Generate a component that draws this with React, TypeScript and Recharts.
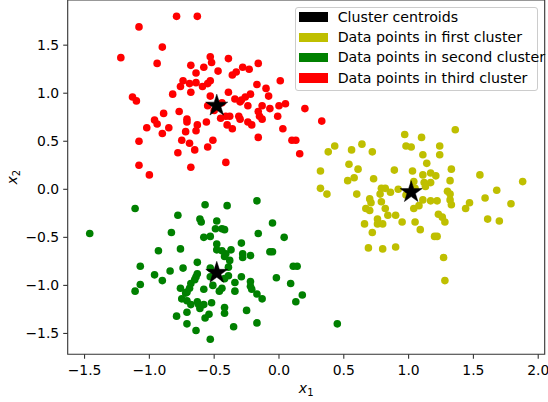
import React from 'react';
import { ScatterChart, Scatter, XAxis, YAxis, Legend, ReferenceArea, Symbols } from 'recharts';

const FONT = "'DejaVu Sans', sans-serif";

const xTicks = [-1.5, -1.0, -0.5, 0.0, 0.5, 1.0, 1.5, 2.0];
const yTicks = [-1.5, -1.0, -0.5, 0.0, 0.5, 1.0, 1.5];
const xDomain: [number, number] = [-1.63, 2.05];
const yDomain: [number, number] = [-1.717, 1.97];

const legendNames = [
  'Cluster centroids',
  'Data points in first cluster',
  'Data points in second cluster',
  'Data points in third cluster',
];
const legendColors = ['#000000', '#bfbf00', '#008000', '#ff0000'];

const centroids: [number, number][] = [[1.02, -0.03], [-0.48, -0.87], [-0.48, 0.87]];

const firstCluster: [number, number][] = [
  [1.36, 0.62], [0.97, 0.57], [1.10, 0.54], [0.43, 0.45], [0.38, 0.39], [0.56, 0.41], [0.64, 0.47], [0.72, 0.39],
  [0.98, 0.45], [1.02, 0.44], [1.24, 0.45], [1.24, 0.36], [1.11, 0.36], [1.14, 0.27], [0.54, 0.26], [0.61, 0.21],
  [0.32, 0.19], [0.89, 0.20], [1.03, 0.19], [1.11, 0.15], [1.17, 0.17], [1.21, 0.14], [1.33, 0.21], [1.55, 0.15],
  [1.88, 0.08], [0.53, 0.09], [0.58, 0.12], [0.73, 0.11], [1.12, 0.07], [1.17, 0.07], [1.32, 0.09], [1.04, 0.08],
  [0.32, 0.01], [0.37, -0.05], [0.60, -0.05], [0.79, 0.01], [0.82, 0.01], [0.78, -0.05], [0.86, -0.03], [0.92, 0.00],
  [1.30, -0.02], [1.32, -0.05], [1.32, -0.11], [1.33, -0.16], [1.47, -0.14], [1.59, -0.09], [1.68, -0.01], [0.70, -0.10],
  [0.71, -0.14], [0.67, -0.20], [0.70, -0.22], [0.79, -0.13], [0.82, -0.20], [0.84, -0.27], [0.90, -0.27], [0.76, -0.31],
  [0.76, -0.36], [0.80, -0.36], [0.66, -0.36], [0.72, -0.45], [0.95, -0.34], [1.05, -0.34], [1.09, -0.42], [1.04, -0.20],
  [1.08, -0.17], [1.11, -0.11], [1.17, -0.12], [1.22, -0.12], [1.23, -0.26], [1.26, -0.29], [1.28, -0.34], [1.20, -0.49],
  [1.22, -0.49], [0.69, -0.61], [0.80, -0.62], [0.90, -0.60], [1.27, -0.71], [1.28, -0.95], [1.44, -0.20], [1.79, -0.15],
  [1.61, -0.31], [1.70, -0.33], [1.13, 0.03], [0.98, -0.06], [1.05, 0.01],
];

const secondCluster: [number, number][] = [
  [-1.11, -0.20], [-1.46, -0.46], [-0.78, -0.27], [-0.57, -0.16], [-0.40, -0.17], [-0.17, -0.12], [-0.61, -0.31], [-0.60, -0.34],
  [-0.48, -0.33], [-0.83, -0.45], [-0.58, -0.50], [-0.53, -0.49], [-0.49, -0.41], [-0.44, -0.41], [-0.42, -0.42], [-0.16, -0.46],
  [-0.05, -0.35], [0.04, -0.50], [-0.76, -0.62], [-0.93, -0.64], [-0.48, -0.57], [-0.48, -0.63], [-0.44, -0.64], [-0.41, -0.67],
  [-0.37, -0.63], [-0.42, -0.70], [-0.38, -0.74], [-0.29, -0.56], [-0.28, -0.67], [-0.28, -0.71], [-0.22, -0.69], [-0.07, -0.65],
  [-0.05, -0.65], [-1.07, -0.80], [-0.74, -0.82], [-0.63, -0.76], [-0.84, -0.85], [-0.96, -0.89], [-0.90, -0.95], [-1.07, -0.99],
  [-1.11, -1.06], [-0.63, -0.88], [-0.64, -0.91], [-0.65, -0.94], [-0.68, -0.98], [-0.69, -1.03], [-0.71, -1.07], [-0.72, -1.08],
  [-0.76, -1.03], [-0.58, -1.04], [-0.53, -0.82], [-0.39, -0.81], [-0.39, -0.90], [-0.42, -0.93], [-0.53, -0.91], [-0.51, -1.00],
  [-0.46, -1.06], [-0.44, -1.03], [-0.34, -0.97], [-0.34, -1.06], [-0.29, -0.91], [-0.22, -0.96], [-0.22, -1.01], [-0.21, -1.04],
  [-0.02, -0.92], [0.09, -0.98], [0.11, -0.80], [0.14, -0.80], [-0.17, -1.09], [-0.13, -1.14], [0.18, -1.10], [0.13, -1.17],
  [-0.75, -1.14], [-0.71, -1.16], [-0.68, -1.20], [-0.63, -1.17], [-0.62, -1.20], [-0.61, -1.24], [-0.58, -1.20], [-0.52, -1.18],
  [-0.42, -1.23], [-0.42, -1.29], [-0.25, -1.26], [-0.71, -1.28], [-0.79, -1.32], [-0.54, -1.30], [-0.57, -1.34], [-0.71, -1.40],
  [-0.35, -1.43], [-0.17, -1.39], [-0.64, -1.47], [-0.53, -1.56], [0.45, -1.40],
];

const thirdCluster: [number, number][] = [
  [-0.79, 1.80], [-0.63, 1.80], [-1.08, 1.69], [-0.90, 1.48], [-1.22, 1.37], [-0.94, 1.31], [-0.53, 1.38], [-0.52, 1.32],
  [-0.39, 1.36], [-0.68, 1.29], [-0.58, 1.27], [-0.47, 1.23], [-0.64, 1.21], [-0.16, 1.31], [-0.28, 1.27], [-0.23, 1.25],
  [-0.33, 1.22], [-0.36, 1.19], [-0.74, 1.13], [-0.76, 1.07], [-0.69, 1.10], [-0.64, 1.11], [-0.53, 1.13], [-0.55, 1.10],
  [-0.59, 1.07], [-0.82, 0.99], [-0.68, 1.01], [-0.53, 0.97], [-0.39, 1.01], [-0.17, 1.09], [-0.10, 1.05], [0.01, 1.13],
  [-0.08, 0.97], [-0.22, 0.99], [-0.26, 0.96], [-0.29, 0.93], [-0.34, 0.94], [-0.30, 0.91], [-0.24, 0.87], [-0.13, 0.87],
  [0.00, 0.87], [0.05, 0.89], [0.20, 0.84], [-1.13, 0.96], [-1.10, 0.92], [-0.55, 0.87], [-0.77, 0.81], [-0.89, 0.79],
  [-0.96, 0.72], [-0.94, 0.68], [-1.02, 0.64], [-0.85, 0.64], [-0.71, 0.73], [-0.71, 0.70], [-0.63, 0.67], [-0.56, 0.70],
  [-0.72, 0.60], [-0.64, 0.61], [-0.90, 0.58], [-1.08, 0.50], [-0.75, 0.51], [-0.69, 0.48], [-0.51, 0.51], [-0.65, 0.41],
  [-0.55, 0.44], [-0.78, 0.38], [-0.41, 0.28], [-1.08, 0.25], [-1.00, 0.15], [-0.68, 0.23], [-0.41, 0.76], [-0.45, 0.74],
  [-0.38, 0.76], [-0.31, 0.76], [-0.30, 0.73], [-0.16, 0.81], [-0.15, 0.76], [-0.13, 0.73], [-0.01, 0.76], [0.03, 0.63],
  [-0.24, 0.70], [-0.21, 0.67], [-0.40, 0.67], [-0.36, 0.63], [-0.16, 0.54], [0.10, 0.51], [0.13, 0.51], [0.16, 0.37],
  [0.33, 0.71], [-0.07, 0.84], [-0.44, 0.90], [-0.50, 0.82],
];

const toPoints = (arr: [number, number][]) => arr.map(([x, y]) => ({ x, y }));

const fmt = (v: number) => v.toFixed(1).replace('-', '\u2212');

const makeDot = (color: string) => (props: any) => (
  <circle cx={props.cx} cy={props.cy} r={3.8} fill={color} />
);

const StarShape = (props: any) => (
  <Symbols type="star" size={150} cx={props.cx} cy={props.cy} fill="#000" stroke="#000" strokeWidth={0.5} />
);

const XLabel = (props: any) => {
  const vb = props.viewBox || { x: 68, y: 354, width: 477, height: 48 };
  return (
    <text x={vb.x + vb.width / 2} y={vb.y + 38.5} textAnchor="middle" fontFamily={FONT} fontSize={14} fill="#000">
      <tspan fontStyle="italic">x</tspan>
      <tspan fontSize={10} dy={3}>1</tspan>
    </text>
  );
};

const YLabel = (props: any) => {
  const vb = props.viewBox || { x: 0, y: 0, width: 68, height: 354 };
  const cx = 17;
  const cy = vb.y + vb.height / 2;
  return (
    <text x={cx} y={cy} transform={`rotate(-90 ${cx} ${cy})`} textAnchor="middle" fontFamily={FONT} fontSize={14} fill="#000">
      <tspan fontStyle="italic">x</tspan>
      <tspan fontSize={10} dy={3}>2</tspan>
    </text>
  );
};

const LegendBox = () => (
  <div
    style={{
      position: 'relative',
      width: 243,
      height: 84,
      boxSizing: 'border-box',
      border: '1px solid #cccccc',
      borderRadius: 3,
      background: 'rgba(255,255,255,0.8)',
      fontFamily: FONT,
      fontSize: 14.2,
      color: '#000',
    }}
  >
    {legendNames.map((name, i) => {
      const center = 9.6 + 20.15 * i;
      return (
        <React.Fragment key={name}>
          <div
            style={{
              position: 'absolute',
              left: 3.3,
              top: center - 4.9,
              width: 28.4,
              height: 9.8,
              background: legendColors[i],
            }}
          />
          <div
            style={{
              position: 'absolute',
              left: 41.7,
              top: center - 10.1,
              height: 20.2,
              lineHeight: '20.2px',
              whiteSpace: 'nowrap',
            }}
          >
            {name}
          </div>
        </React.Fragment>
      );
    })}
  </div>
);

const axisStroke = '#333333';

export default function App() {
  return (
    <div style={{ position: 'absolute', left: 0, top: 0, background: '#fff' }}>
      <ScatterChart width={548} height={402} margin={{ top: 0, right: 3.3, bottom: 0, left: 0 }}>
        <XAxis
          type="number"
          dataKey="x"
          domain={xDomain}
          allowDataOverflow
          ticks={xTicks}
          interval={0}
          tickFormatter={fmt}
          height={47.7}
          tickSize={4.5}
          tickMargin={6.5}
          axisLine={false}
          tickLine={{ stroke: axisStroke, strokeWidth: 1.1 }}
          tick={{ fill: '#000', fontSize: 13.9, fontFamily: FONT }}
          label={<XLabel />}
        />
        <YAxis
          type="number"
          dataKey="y"
          domain={yDomain}
          allowDataOverflow
          ticks={yTicks}
          interval={0}
          tickFormatter={fmt}
          width={67.7}
          tickSize={4.5}
          tickMargin={4}
          axisLine={false}
          tickLine={{ stroke: axisStroke, strokeWidth: 1.1 }}
          tick={{ fill: '#000', fontSize: 13.9, fontFamily: FONT }}
          label={<YLabel />}
        />
        <ReferenceArea
          x1={xDomain[0]}
          x2={xDomain[1]}
          y1={yDomain[0]}
          y2={yDomain[1]}
          fill="none"
          stroke={axisStroke}
          strokeWidth={1.1}
          ifOverflow="visible"
        />
        <Scatter name={legendNames[1]} data={toPoints(firstCluster)} fill={legendColors[1]} shape={makeDot(legendColors[1])} isAnimationActive={false} />
        <Scatter name={legendNames[2]} data={toPoints(secondCluster)} fill={legendColors[2]} shape={makeDot(legendColors[2])} isAnimationActive={false} />
        <Scatter name={legendNames[3]} data={toPoints(thirdCluster)} fill={legendColors[3]} shape={makeDot(legendColors[3])} isAnimationActive={false} />
        <Scatter name={legendNames[0]} data={toPoints(centroids)} fill={legendColors[0]} shape={StarShape} isAnimationActive={false} />
        <Legend
          layout="vertical"
          align="center"
          verticalAlign="middle"
          content={<LegendBox />}
          wrapperStyle={{ left: 295, top: 6.7, width: 243, height: 84 }}
        />
      </ScatterChart>
    </div>
  );
}
